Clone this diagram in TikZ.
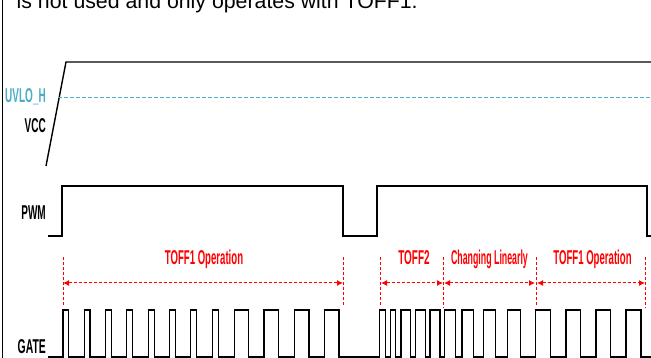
\documentclass[tikz,border=0pt]{standalone}
\usepackage{fontspec}
\setmainfont{Liberation Sans}
\usetikzlibrary{arrows.meta}
\definecolor{uvlocol}{HTML}{4BACC6}
\begin{document}
\begin{tikzpicture}[x=1pt,y=-1pt,
  sig/.style={line width=1.4pt},
  lbl/.style={font=\bfseries\fontsize{20}{20}\selectfont, inner sep=0pt, anchor=base east},
  tlbl/.style={font=\bfseries\fontsize{20}{20}\selectfont, red, inner sep=0pt, anchor=base},
  tline/.style={red, dash pattern=on 3pt off 2pt, line width=1pt},
  span/.style={red, dash pattern=on 3pt off 2pt, line width=1pt, {Latex[length=6pt,width=6pt]}-{Latex[length=6pt,width=6pt]}}]
\useasboundingbox (0,0) rectangle (651,358);
\clip (0,0) rectangle (651,358);
\draw[line width=1pt] (2,0) -- (2,358);
\node[anchor=base west, inner sep=0pt, font=\fontsize{21.3}{22}\selectfont] (note) at (16.5,9) {is not used and only operates with TOFF1.};

% VCC
\draw[sig] (46,166) -- (66,62) -- (651,62);
\draw[uvlocol, dash pattern=on 3.5pt off 2.5pt, line width=1.3pt] (58,97.5) -- (651,97.5);
\node[lbl, uvlocol] (uvlo) at (46,103) {\scalebox{0.5}[1]{UVLO\_H}};
\node[lbl] (vcc) at (46,133) {\scalebox{0.5}[1]{VCC}};

% PWM
\node[lbl] (pwm) at (46,220) {\scalebox{0.5}[1]{PWM}};
\draw[sig] (48,236) -- (62,236) -- (62,186) -- (343,186) -- (343,236) -- (377,236)
  -- (377,186) -- (647,186) -- (647,236) -- (651,236);

% timing spans
\draw[tline] (63,257) -- (63,306);
\draw[tline] (343,257) -- (343,306);
\draw[tline] (380.5,257) -- (380.5,306);
\draw[tline] (443.5,257) -- (443.5,308);
\draw[tline] (536,257) -- (536,306);
\draw[tline] (645.5,257) -- (645.5,308);
\coordinate (a0) at (63,283);
\coordinate (a1) at (343,283);
\coordinate (b0) at (381,283);
\coordinate (b1) at (443,283);
\coordinate (c0) at (444,283);
\coordinate (c1) at (535,283);
\coordinate (d0) at (537,283);
\coordinate (d1) at (645,283);
\draw[span] (a0) -- (a1);
\draw[span] (b0) -- (b1);
\draw[span] (c0) -- (c1);
\draw[span] (d0) -- (d1);
\node[tlbl] (t1) at (204,265) {\scalebox{0.48}[1]{TOFF1 Operation}};
\node[tlbl] (t2) at (414,265) {\scalebox{0.5}[1]{TOFF2}};
\node[tlbl] (t3) at (489.5,265) {\scalebox{0.44}[1]{Changing Linearly}};
\node[tlbl] (t4) at (592.5,265) {\scalebox{0.48}[1]{TOFF1 Operation}};

% GATE
\node[lbl] (gate) at (46,353) {\scalebox{0.52}[1]{GATE}};
\draw[sig] (48,357) -- (63,357) -- (63,310) -- (68.5,310) -- (68.5,357)
  -- (84.3,357) -- (84.3,310) -- (90,310) -- (90,357)
  -- (105.5,357) -- (105.5,310) -- (111.5,310) -- (111.5,357)
  -- (126.7,357) -- (126.7,310) -- (132.7,310) -- (132.7,357)
  -- (148.3,357) -- (148.3,310) -- (154.3,310) -- (154.3,357)
  -- (169.5,357) -- (169.5,310) -- (175.7,310) -- (175.7,357)
  -- (190.7,357) -- (190.7,310) -- (196.7,310) -- (196.7,357)
  -- (212.5,357) -- (212.5,310) -- (218.3,310) -- (218.3,357)
  -- (234.5,357) -- (234.5,310) -- (248.7,310) -- (248.7,357)
  -- (264,357) -- (264,310) -- (278.7,310) -- (278.7,357)
  -- (294.3,357) -- (294.3,310) -- (309,310) -- (309,357)
  -- (324.5,357) -- (324.5,310) -- (339,310) -- (339,357)
  -- (379.5,357) -- (379.5,310) -- (385.5,310) -- (385.5,357)
  -- (390.3,357) -- (390.3,310) -- (395.7,310) -- (395.7,357)
  -- (401,357) -- (401,310) -- (410.5,310) -- (410.5,357)
  -- (415.3,357) -- (415.3,310) -- (425.3,310) -- (425.3,357)
  -- (430,357) -- (430,310) -- (440,310) -- (440,357)
  -- (444.5,357) -- (444.5,310) -- (455.5,310) -- (455.5,357)
  -- (462,357) -- (462,310) -- (473.3,310) -- (473.3,357)
  -- (483.3,357) -- (483.3,310) -- (495.5,310) -- (495.5,357)
  -- (507.7,357) -- (507.7,310) -- (520.5,310) -- (520.5,357)
  -- (535.7,357) -- (535.7,310) -- (550.5,310) -- (550.5,357)
  -- (566,357) -- (566,310) -- (580.5,310) -- (580.5,357)
  -- (596,357) -- (596,310) -- (610.5,310) -- (610.5,357)
  -- (626,357) -- (626,310) -- (641,310) -- (641,357) -- (651,357);
\end{tikzpicture}
\end{document}
